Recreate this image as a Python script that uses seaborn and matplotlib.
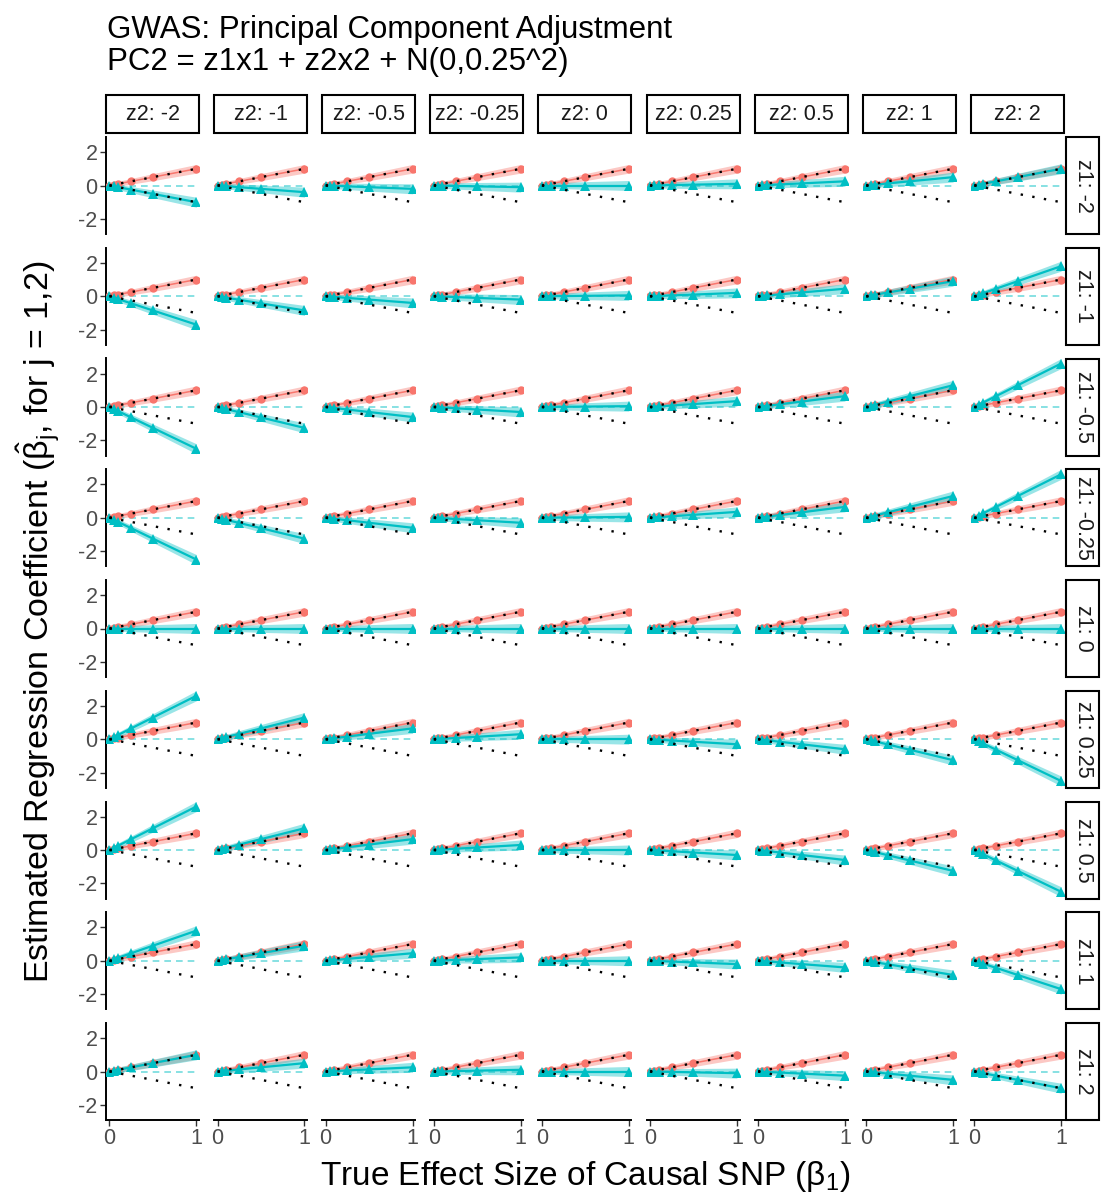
import numpy as np
import pandas as pd
import matplotlib
matplotlib.use("Agg")
import matplotlib.pyplot as plt
from matplotlib.patches import Rectangle
import seaborn as sns

# ---------------- data ----------------
z1_levels = ["-2", "-1", "-0.5", "-0.25", "0", "0.25", "0.5", "1", "2"]
z2_levels = ["-2", "-1", "-0.5", "-0.25", "0", "0.25", "0.5", "1", "2"]
beta1_true = [0.0, 0.05, 0.1, 0.25, 0.5, 1.0]
beta1_est = [0.0, 0.05, 0.1, 0.25, 0.5, 1.0]
ribbon_half_b1 = [0.13, 0.14, 0.15, 0.17, 0.21, 0.26]
ribbon_half_b2 = [0.13, 0.14, 0.16, 0.19, 0.23, 0.30]
# estimated beta2 per unit of beta1, read for each (z1 row, z2 column) panel
beta2_rate = [
    [-1.0, -0.4, -0.2, -0.1, 0.0, 0.1, 0.25, 0.5, 1.0],
    [-1.7, -0.85, -0.4, -0.2, 0.05, 0.2, 0.45, 0.9, 1.8],
    [-2.5, -1.25, -0.6, -0.3, 0.05, 0.35, 0.65, 1.3, 2.6],
    [-2.5, -1.25, -0.6, -0.3, 0.05, 0.35, 0.65, 1.3, 2.6],
    [0.0, 0.0, 0.0, 0.0, 0.0, 0.0, 0.0, 0.0, 0.0],
    [2.6, 1.3, 0.65, 0.3, 0.0, -0.3, -0.6, -1.25, -2.5],
    [2.6, 1.3, 0.65, 0.3, 0.0, -0.3, -0.6, -1.25, -2.5],
    [1.8, 0.9, 0.45, 0.2, 0.0, -0.2, -0.4, -0.85, -1.7],
    [1.0, 0.5, 0.25, 0.1, 0.0, -0.1, -0.25, -0.5, -1.0],
]

rows = []
for i, z1 in enumerate(z1_levels):
    for j, z2 in enumerate(z2_levels):
        for k, b in enumerate(beta1_true):
            e1 = beta1_est[k]
            rows.append(dict(z1=z1, z2=z2, x=b, coef="b1", est=e1,
                             lo=e1 - ribbon_half_b1[k], hi=e1 + ribbon_half_b1[k]))
            e2 = beta2_rate[i][j] * b
            rows.append(dict(z1=z1, z2=z2, x=b, coef="b2", est=e2,
                             lo=e2 - ribbon_half_b2[k], hi=e2 + ribbon_half_b2[k]))
df = pd.DataFrame(rows)

# ---------------- style ----------------
sns.set_theme(style="white")
plt.rcParams["font.family"] = ["Liberation Sans", "DejaVu Sans"]
plt.rcParams["mathtext.fontset"] = "custom"
plt.rcParams["mathtext.rm"] = "Liberation Sans"
plt.rcParams["mathtext.it"] = "Liberation Sans"
plt.rcParams["mathtext.bf"] = "Liberation Sans:bold"

RED = "#F8766D"
TEAL = "#00BFC4"
palette = {"b1": RED, "b2": TEAL}
markers = {"b1": "o", "b2": "^"}

W, H = 1101, 1197
fig = plt.figure(figsize=(W / 100, H / 100), dpi=100)

left0, col_pitch, pw = 106, 108.1, 93
top0, row_pitch, ph = 137, 110.75, 97
TICK_FS = 15.5
STRIP_FS = 15.5

for i, z1 in enumerate(z1_levels):
    for j, z2 in enumerate(z2_levels):
        x0 = left0 + j * col_pitch
        y0 = top0 + i * row_pitch
        ax = fig.add_axes([x0 / W, 1 - (y0 + ph) / H, pw / W, ph / H])
        sub = df[(df.z1 == z1) & (df.z2 == z2)]
        for coef in ["b1", "b2"]:
            s = sub[sub.coef == coef]
            ax.fill_between(s.x, s.lo, s.hi, color=palette[coef], alpha=0.4,
                            linewidth=0, zorder=1)
        ax.axhline(0, color=TEAL, alpha=0.55, lw=1.2, ls=(0, (4, 3)), zorder=2)
        for coef in ["b1", "b2"]:
            s = sub[sub.coef == coef]
            sns.lineplot(data=s, x="x", y="est", color=palette[coef],
                         marker=markers[coef],
                         markersize=6.0 if coef == "b1" else 6.8,
                         markeredgewidth=0,
                         lw=1.1 if coef == "b1" else 1.6, ax=ax, zorder=3,
                         legend=False)
        xs = np.array([0.0, 1.0])
        ax.plot(xs, xs, color="black", lw=1.7, ls=(0, (1, 4)), zorder=4)
        ax.plot(xs, -xs, color="black", lw=1.7, ls=(0, (1, 4)), zorder=4)

        ax.set_xlim(-0.04, 1.03)
        ax.set_ylim(-2.9, 2.9)
        ax.set_xlabel("")
        ax.set_ylabel("")
        ax.set_facecolor("white")
        for sp in ["top", "right"]:
            ax.spines[sp].set_visible(False)
        ax.spines["left"].set_visible(j == 0)
        ax.spines["bottom"].set_visible(i == len(z1_levels) - 1)
        for sp in ["left", "bottom"]:
            ax.spines[sp].set_color("black")
            ax.spines[sp].set_linewidth(1.4)
        if j == 0:
            ax.set_yticks([-2, 0, 2])
            ax.set_yticklabels(["-2", "0", "2"])
            ax.tick_params(axis="y", left=True, length=4, width=1.0,
                           color="#333333", labelsize=TICK_FS, labelcolor="#4D4D4D",
                           pad=2)
        else:
            ax.set_yticks([])
        if i == len(z1_levels) - 1:
            ax.set_xticks([0, 1])
            ax.set_xticklabels(["0", "1"])
            ax.tick_params(axis="x", bottom=True, length=4, width=1.0,
                           color="#333333", labelsize=TICK_FS, labelcolor="#4D4D4D",
                           pad=2)
        else:
            ax.set_xticks([])

        # top strips
        if i == 0:
            fig.patches.append(Rectangle((x0 / W, 1 - 133 / H), pw / W, 38 / H,
                                         transform=fig.transFigure, facecolor="white",
                                         edgecolor="black", linewidth=1.5))
            fig.text((x0 + pw / 2) / W, 1 - 115 / H, f"z2: {z2}", ha="center",
                     va="center", fontsize=STRIP_FS, color="#1A1A1A")
        # right strips
        if j == len(z2_levels) - 1:
            fig.patches.append(Rectangle((1066 / W, 1 - (y0 + ph) / H), 33 / W, ph / H,
                                         transform=fig.transFigure, facecolor="white",
                                         edgecolor="black", linewidth=1.5))
            fig.text(1083 / W, 1 - (y0 + ph / 2) / H, f"z1: {z1}", ha="center",
                     va="center", rotation=-90, fontsize=STRIP_FS, color="#1A1A1A")

fig.text(107 / W, 1 - 15 / H,
         "GWAS: Principal Component Adjustment\nPC2 = z1x1 + z2x2 + N(0,0.25^2)",
         ha="left", va="top", fontsize=22.5, linespacing=1.08, color="black")
fig.text(585 / W, 1 - 1177 / H, r"True Effect Size of Causal SNP ($\beta_1$)",
         ha="center", va="center", fontsize=24, color="black")
fig.text(38 / W, 1 - 622 / H,
         r"Estimated Regression Coefficient ($\hat{\beta}_j$, for j = 1,2)",
         ha="center", va="center", rotation=90, fontsize=24.5, color="black")

fig.savefig("out.png", dpi=100, facecolor="white")
